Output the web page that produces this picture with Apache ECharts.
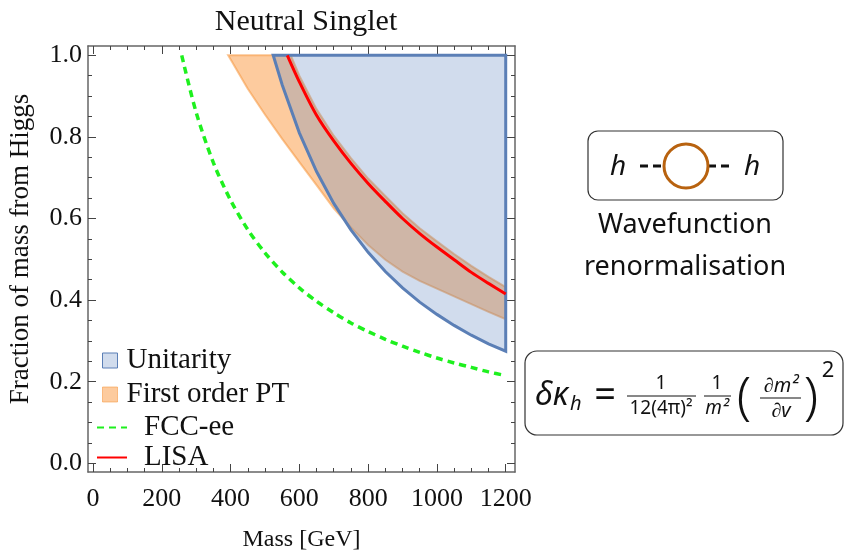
<!DOCTYPE html>
<html>
<head>
<meta charset="utf-8">
<script src="https://cdn.jsdelivr.net/npm/echarts@6/dist/echarts.min.js"></script>
<style>
html, body { margin: 0; padding: 0; background: #fff; }
#main { width: 845px; height: 558px; }
</style>
</head>
<body>
<div id="main"></div>
<script>
// 刻度
var xTickMajor = [0, 200, 400, 600, 800, 1000, 1200];
var xTickMinor = [0, 50, 100, 150, 200, 250, 300, 350, 400, 450, 500, 550, 600, 650, 700, 750, 800, 850, 900, 950, 1000, 1050, 1100, 1150, 1200];
var yTickMajor = [0, 0.2, 0.4, 0.6, 0.8, 1.0];
var yTickMinor = [0, 0.05, 0.1, 0.15, 0.2, 0.25, 0.3, 0.35, 0.4, 0.45, 0.5, 0.55, 0.6, 0.65, 0.7, 0.75, 0.8, 0.85, 0.9, 0.95, 1.0];

// Unitarity 下边界
var uniMass = [524, 550, 600, 650, 700, 750, 800, 850, 900, 950, 1000, 1050, 1100, 1150, 1200];
var uniFrac = [1.0, 0.928, 0.81, 0.715, 0.637, 0.572, 0.517, 0.47, 0.43, 0.395, 0.365, 0.338, 0.314, 0.293, 0.275];

// First order PT 带
var ptLowMass = [393, 450, 500, 550, 600, 650, 700, 750, 800, 850, 900, 950, 1000, 1050, 1100, 1150, 1200];
var ptLowFrac = [1.0, 0.918, 0.855, 0.795, 0.738, 0.682, 0.625, 0.578, 0.535, 0.499, 0.47, 0.447, 0.428, 0.409, 0.39, 0.371, 0.353];
var ptHighMass = [575, 600, 650, 700, 750, 800, 850, 900, 950, 1000, 1050, 1100, 1150, 1200];
var ptHighFrac = [1.0, 0.95, 0.868, 0.803, 0.748, 0.698, 0.655, 0.613, 0.576, 0.544, 0.513, 0.484, 0.457, 0.432];

// FCC-ee
var fccMass = [258, 300, 350, 400, 450, 500, 550, 600, 650, 700, 750, 800, 850, 900, 950, 1000, 1050, 1100, 1150, 1200];
var fccFrac = [1.0, 0.86, 0.737, 0.645, 0.573, 0.516, 0.469, 0.43, 0.397, 0.369, 0.344, 0.323, 0.304, 0.287, 0.272, 0.258, 0.246, 0.235, 0.224, 0.215];

// LISA
var lisaMass = [565, 600, 650, 700, 750, 800, 850, 900, 950, 1000, 1050, 1100, 1150, 1200];
var lisaFrac = [1.0, 0.935, 0.853, 0.79, 0.735, 0.686, 0.642, 0.6, 0.563, 0.53, 0.499, 0.468, 0.441, 0.415];

var serif = 'Liberation Serif';

function pairs(xs, ys) {
  return xs.map(function(x, i) { return [x, ys[i]]; });
}

function xAx(pos, ticks, len, line, label) {
  return {
    type: 'value', position: pos, min: -14.5, max: 1227,
    axisLine: { show: line, onZero: false, lineStyle: { color: '#666', width: 1.5 } },
    axisTick: { show: true, inside: true, length: len, customValues: ticks, lineStyle: { color: '#444', width: 1 } },
    axisLabel: { show: label, customValues: xTickMajor, margin: 14, fontFamily: serif, fontSize: 26, color: '#111',
      formatter: function(v) { return String(v); } },
    splitLine: { show: false }
  };
}

function yAx(pos, ticks, len, line, label) {
  return {
    type: 'value', position: pos, min: -0.0213, max: 1.0228,
    axisLine: { show: line, onZero: false, lineStyle: { color: '#666', width: 1.5 } },
    axisTick: { show: true, inside: true, length: len, customValues: ticks, lineStyle: { color: '#444', width: 1 } },
    axisLabel: { show: label, customValues: yTickMajor, margin: 6, fontFamily: serif, fontSize: 26, color: '#111',
      formatter: function(v) { return v.toFixed(1); } },
    splitLine: { show: false }
  };
}

// 区域多边形
function regionItem(lower, upper) {
  return function(params, api) {
    if (params.dataIndex !== 0) return;
    var pts = lower.map(function(p) { return api.coord(p); });
    upper.slice().reverse().forEach(function(p) { pts.push(api.coord(p)); });
    return { type: 'polygon', shape: { points: pts }, style: api.style() };
  };
}

var uniLower = pairs(uniMass, uniFrac);
var uniUpper = [[uniMass[0], 1.0], [1200, 1.0]];
var ptLower = pairs(ptLowMass, ptLowFrac);
var ptUpper = [[ptLowMass[0], 1.0]].concat(pairs(ptHighMass, ptHighFrac));

var myChart = echarts.init(document.getElementById('main'));

function txt(x, y, s, font, align) {
  return { type: 'text', x: x, y: y, style: { text: s, font: font, fill: '#111', textAlign: align || 'center', textVerticalAlign: 'middle' } };
}

var option = {
  animation: false,
  backgroundColor: '#fff',
  title: {
    text: 'Neutral Singlet', left: 301, top: 2, textAlign: 'center',
    textStyle: { fontFamily: serif, fontSize: 30, fontWeight: 'normal', color: '#111' }
  },
  grid: { left: 88, top: 46, right: 330, bottom: 86, outerBoundsMode: 'none' },
  xAxis: [
    Object.assign(xAx('bottom', xTickMajor, 8, true, true), {
      name: 'Mass [GeV]', nameLocation: 'middle', nameGap: 56,
      nameTextStyle: { fontFamily: serif, fontSize: 24, color: '#111' }
    }),
    xAx('bottom', xTickMinor, 4, false, false),
    xAx('top', xTickMajor, 8, true, false),
    xAx('top', xTickMinor, 4, false, false)
  ],
  yAxis: [
    yAx('left', yTickMajor, 8, true, true),
    yAx('left', yTickMinor, 4, false, false),
    yAx('right', yTickMajor, 8, true, false),
    yAx('right', yTickMinor, 4, false, false)
  ],
  legend: [
    {
      orient: 'vertical', left: 97, top: 341, itemWidth: 15, itemHeight: 15, itemGap: 5,
      data: [{ name: 'Unitarity', icon: 'rect' }, { name: 'First order PT', icon: 'rect' }],
      itemStyle: { borderWidth: 1 },
      textStyle: { fontFamily: serif, fontSize: 29, lineHeight: 29, color: '#111', padding: [0, 0, 0, 4] }
    },
    {
      orient: 'vertical', left: 91, top: 408, itemWidth: 30, itemHeight: 14, itemGap: 1,
      data: ['FCC-ee', 'LISA'],
      itemStyle: { color: 'rgba(0,0,0,0)', borderWidth: 0 },
      textStyle: { fontFamily: serif, fontSize: 29, lineHeight: 29, color: '#111', padding: [0, 0, 0, 12] }
    }
  ],
  series: [
    {
      name: 'First order PT', type: 'custom', z: 2,
      renderItem: regionItem(ptLower, ptUpper),
      itemStyle: { color: 'rgba(250,140,40,0.45)', borderColor: 'rgba(245,150,60,0.55)', borderWidth: 2 },
      data: [ptLower[0]]
    },
    {
      name: 'Unitarity', type: 'custom', z: 3,
      renderItem: regionItem(uniLower, uniUpper),
      itemStyle: { color: 'rgba(90,130,190,0.28)', borderColor: '#5b7fb6', borderWidth: 3 },
      data: [uniLower[0]]
    },
    {
      name: 'FCC-ee', type: 'line', z: 4, smooth: 0.3, symbol: 'none',
      lineStyle: { color: '#1ef01e', width: 3.5, type: [7, 5] },
      itemStyle: { color: '#1ef01e' },
      data: pairs(fccMass, fccFrac)
    },
    {
      name: 'LISA', type: 'line', z: 5, smooth: 0.3, symbol: 'none',
      lineStyle: { color: '#ff0000', width: 3 },
      itemStyle: { color: '#ff0000' },
      data: pairs(lisaMass, lisaFrac)
    }
  ],
  graphic: [
    // y轴标题
    { type: 'text', x: 21, y: 249, rotation: Math.PI / 2,
      style: { text: 'Fraction of mass from Higgs', font: '27px "Liberation Serif"', fill: '#111', textAlign: 'center', textVerticalAlign: 'middle' } },
    // 图示框
    { type: 'rect', shape: { x: 588, y: 131, width: 195, height: 69, r: 10 }, style: { fill: 'none', stroke: '#333', lineWidth: 1.2 } },
    txt(618, 167, 'h', 'italic 28px "Noto Sans"'),
    { type: 'line', shape: { x1: 640, y1: 166, x2: 664, y2: 166 }, style: { stroke: '#111', lineWidth: 3, lineDash: [8, 5] } },
    { type: 'line', shape: { x1: 708, y1: 166, x2: 733, y2: 166 }, style: { stroke: '#111', lineWidth: 3, lineDash: [8, 5] } },
    { type: 'circle', shape: { cx: 686, cy: 166, r: 22 }, style: { fill: 'none', stroke: '#b8620f', lineWidth: 3 } },
    txt(752, 167, 'h', 'italic 28px "Noto Sans"'),
    txt(685, 225, 'Wavefunction', '27px "Noto Sans"'),
    txt(685, 267, 'renormalisation', '27px "Noto Sans"'),
    // 公式框
    { type: 'rect', shape: { x: 525, y: 351, width: 318, height: 84, r: 12 }, style: { fill: 'none', stroke: '#333', lineWidth: 1.2 } },
    txt(535, 396, 'δκ', 'italic 32px "Noto Sans"', 'left'),
    txt(570, 404, 'h', 'italic 20px "Noto Sans"', 'left'),
    txt(605, 396, '=', '38px "Noto Sans"'),
    txt(661, 384, '1', '19px "Noto Sans"'),
    { type: 'line', shape: { x1: 627, y1: 396, x2: 696, y2: 396 }, style: { stroke: '#111', lineWidth: 1 } },
    txt(661, 409, '12(4π)²', '19px "Noto Sans"'),
    txt(717, 384, '1', '19px "Noto Sans"'),
    { type: 'line', shape: { x1: 704, y1: 396, x2: 731, y2: 396 }, style: { stroke: '#111', lineWidth: 1 } },
    txt(717, 409, 'm²', 'italic 19px "Noto Sans"'),
    txt(744, 399, '(', '300 52px "Noto Sans"'),
    txt(781, 386, '∂m²', 'italic 20px "Noto Sans"'),
    { type: 'line', shape: { x1: 760, y1: 398, x2: 801, y2: 398 }, style: { stroke: '#111', lineWidth: 1 } },
    txt(781, 411, '∂v', 'italic 20px "Noto Sans"'),
    txt(811, 399, ')', '300 52px "Noto Sans"'),
    txt(828, 371, '2', '22px "Noto Sans"')
  ]
};

myChart.setOption(option);
</script>
</body>
</html>
